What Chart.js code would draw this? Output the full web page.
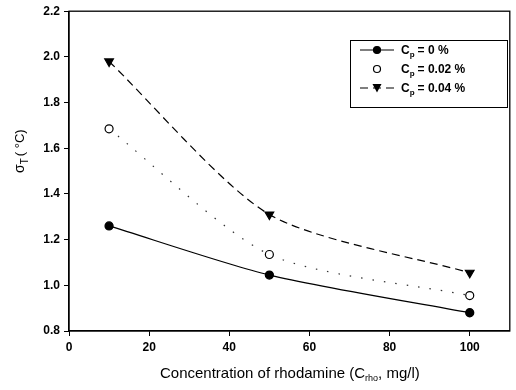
<!DOCTYPE html>
<html>
<head>
<meta charset="utf-8">
<script src="https://cdn.jsdelivr.net/npm/chart.js@4/dist/chart.umd.min.js"></script>
<style>
  html, body { margin: 0; padding: 0; background: #fff; }
  #wrap { width: 516px; height: 390px; }
</style>
</head>
<body>
<div id="wrap"><canvas id="grafico" width="516" height="390"></canvas></div>
<script>
// concentracion de rodamina (mg/l)
const concentracion = [10, 50, 100];
// sigma T (°C) para cada Cp
const cp0 = [1.26, 1.045, 0.88];
const cp002 = [1.685, 1.135, 0.955];
const cp004 = [1.98, 1.31, 1.055];
const etiquetasSerie = ['0 %', '0.02 %', '0.04 %'];
const ticksY = [0.8, 1.0, 1.2, 1.4, 1.6, 1.8, 2.0, 2.2];
const ticksX = [0, 20, 40, 60, 80, 100];

const fuente = '"Liberation Sans", Arial, sans-serif';

function puntos(ys) {
    return concentracion.map((x, i) => ({ x: x, y: ys[i] }));
}

// marco, titulos con subindice y leyenda dentro del area
const extras = {
    id: 'extras',
    afterDraw(chart) {
        const c = chart.ctx;
        const a = chart.chartArea;
        c.save();
        c.strokeStyle = '#000';
        c.lineWidth = 1.3;
        c.strokeRect(a.left, a.top, a.right - a.left, a.bottom - a.top);

        // titulo eje x
        c.fillStyle = '#000';
        c.textBaseline = 'alphabetic';
        c.font = '15px ' + fuente;
        let x = 160, y = 378;
        const t1 = 'Concentration of rhodamine (C';
        c.fillText(t1, x, y);
        x += c.measureText(t1).width;
        c.font = '9px ' + fuente;
        c.fillText('rho', x, y + 3);
        x += c.measureText('rho').width;
        c.font = '15px ' + fuente;
        c.fillText(', mg/l)', x, y);

        // titulo eje y (rotado)
        c.save();
        c.translate(24, 173);
        c.rotate(-Math.PI / 2);
        c.font = '14px ' + fuente;
        let yx = 0;
        c.fillText('σ', yx, 0);
        yx += c.measureText('σ').width;
        c.font = '10px ' + fuente;
        c.fillText('T', yx, 4);
        yx += c.measureText('T').width + 2;
        c.font = '13px ' + fuente;
        c.fillText('( °C)', yx, 0);
        c.restore();

        // leyenda
        const bx = 350, by = 40, bw = 157, bh = 67;
        c.lineWidth = 1;
        c.strokeRect(bx + 0.5, by + 0.5, bw, bh);
        const filas = [50, 69, 88];
        chart.data.datasets.forEach((ds, i) => {
            const fy = filas[i];
            c.strokeStyle = '#000';
            c.lineWidth = 1.2;
            c.setLineDash(ds.borderDash || []);
            if (i !== 1) {
                c.beginPath();
                c.moveTo(360, fy);
                c.lineTo(394, fy);
                c.stroke();
            }
            c.setLineDash([]);
            c.fillStyle = ds.pointBackgroundColor;
            c.beginPath();
            if (ds.pointStyle === 'triangle') {
                c.moveTo(377 - 4.5, fy - 4);
                c.lineTo(377 + 4.5, fy - 4);
                c.lineTo(377, fy + 4.5);
                c.closePath();
                c.fillStyle = '#000';
                c.fill();
            } else {
                c.arc(377, fy, 3.5, 0, Math.PI * 2);
                c.fill();
                c.stroke();
            }
            c.fillStyle = '#000';
            c.font = 'bold 12px ' + fuente;
            let lx = 401;
            c.fillText('C', lx, fy + 4);
            lx += c.measureText('C').width;
            c.font = 'bold 8px ' + fuente;
            c.fillText('p', lx, fy + 7);
            lx += c.measureText('p').width + 3;
            c.font = 'bold 12px ' + fuente;
            c.fillText('= ' + etiquetasSerie[i], lx, fy + 4);
        });
        c.restore();
    }
};

const ctx = document.getElementById('grafico');

new Chart(ctx, {
    type: 'scatter',
    data: {
        datasets: [{
            label: 'Cp = 0 %',
            data: puntos(cp0),
            showLine: true,
            tension: 0.25,
            borderColor: '#000',
            borderWidth: 1.3,
            pointStyle: 'circle',
            pointRadius: 4,
            pointBackgroundColor: '#000',
            pointBorderColor: '#000'
        }, {
            label: 'Cp = 0.02 %',
            data: puntos(cp002),
            showLine: true,
            tension: 0.25,
            borderColor: '#333',
            borderWidth: 1.2,
            borderDash: [1.5, 10],
            pointStyle: 'circle',
            pointRadius: 4,
            pointBorderWidth: 1.2,
            pointBackgroundColor: '#fff',
            pointBorderColor: '#000'
        }, {
            label: 'Cp = 0.04 %',
            data: puntos(cp004),
            showLine: true,
            tension: 0.25,
            borderColor: '#000',
            borderWidth: 1.2,
            borderDash: [8, 5],
            pointStyle: 'triangle',
            rotation: 180,
            pointRadius: 5,
            pointBackgroundColor: '#000',
            pointBorderColor: '#000'
        }]
    },
    options: {
        responsive: false,
        animation: false,
        layout: { padding: { top: 10, right: 3, left: 0, bottom: 0 } },
        plugins: {
            legend: { display: false },
            tooltip: { enabled: false }
        },
        scales: {
            x: {
                type: 'linear',
                min: 0,
                max: 110,
                afterBuildTicks: s => { s.ticks = ticksX.map(v => ({ value: v })); },
                afterFit: s => { s.height = 59; },
                grid: {
                    drawOnChartArea: false,
                    drawTicks: true,
                    tickLength: 5,
                    color: '#000'
                },
                border: { color: '#000', width: 1.3 },
                ticks: {
                    color: '#000',
                    padding: 4,
                    font: { family: fuente, size: 12, weight: 'bold' }
                }
            },
            y: {
                min: 0.8,
                max: 2.2,
                afterBuildTicks: s => { s.ticks = ticksY.map(v => ({ value: v })); },
                afterFit: s => { s.width = 69; },
                grid: {
                    drawOnChartArea: false,
                    drawTicks: true,
                    tickLength: 5,
                    color: '#000'
                },
                border: { color: '#000', width: 1.3 },
                ticks: {
                    color: '#000',
                    padding: 4,
                    callback: v => v.toFixed(1),
                    font: { family: fuente, size: 12, weight: 'bold' }
                }
            }
        }
    },
    plugins: [extras]
});
</script>
</body>
</html>
